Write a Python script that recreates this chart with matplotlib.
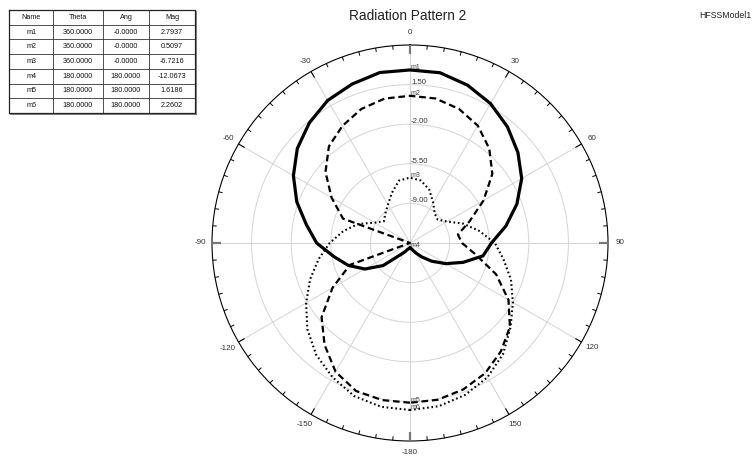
import numpy as np
import matplotlib
matplotlib.use("Agg")
import matplotlib.pyplot as plt

plt.rcParams["font.family"] = ["Liberation Sans", "DejaVu Sans"]

# ---- data: gain (dB) versus theta (deg), -180 .. 180 in 10 deg steps ----
theta_deg = list(range(-180, 181, 10))

gain_solid = [-12.0673, -12.0, -11.9, -11.6, -11.1, -9.4, -7.9, -6.7, -5.65, -4.25,
              -3.2, -1.85, -0.6, 0.5, 1.35, 2.05, 2.45, 2.8, 2.7937, 2.78,
              2.35, 1.73, 0.9, -0.05, -1.1, -2.45, -3.9, -5.3, -5.95, -7.5,
              -8.85, -10.0, -10.9, -11.5, -11.85, -12.0, -12.0673]

gain_dashed = [1.6186, 1.6, 1.42, 0.65, -0.75, -2.3, -4.6, -6.85, -14.0, -18.0,
               -15.0, -6.2, -4.5, -2.75, -1.35, -0.55, 0.1, 0.46, 0.5097, 0.47,
               0.12, -0.52, -1.6, -3.0, -5.0, -6.9, -8.2, -7.9, -6.6, -4.4,
               -2.45, -0.97, 0.0, 0.79, 1.27, 1.57, 1.6186]

gain_dotted = [2.2602, 2.2, 1.9, 1.2, 0.4, -0.65, -1.9, -3.1, -4.3, -5.4,
               -6.5, -7.6, -8.9, -9.5, -9.1, -8.6, -7.8, -6.9, -6.7216, -6.9,
               -7.5, -8.4, -9.1, -9.3, -8.7, -7.5, -6.3, -5.0, -4.1, -3.0,
               -2.0, -0.9, 0.3, 1.2, 1.78, 2.15, 2.2602]

# radial scale
r_min, r_max = -12.5, 5.0
r_rings = [-9.0, -5.5, -2.0, 1.5]

# markers: name, series index, plot angle, theta / ang strings for the table
marker_names = ["m1", "m2", "m3", "m4", "m5", "m6"]
marker_series = [0, 1, 2, 0, 1, 2]
marker_angle = [0, 0, 0, 180, 180, 180]
marker_theta_txt = ["360.0000", "360.0000", "360.0000", "180.0000", "180.0000", "180.0000"]
marker_ang_txt = ["-0.0000", "-0.0000", "-0.0000", "180.0000", "180.0000", "180.0000"]

angle_ticks = [0, 30, 60, 90, 120, 150, 180, 210, 240, 270, 300, 330]
angle_labels = ["0", "30", "60", "90", "120", "150", "-180", "-150", "-120", "-90", "-60", "-30"]

series = [gain_solid, gain_dashed, gain_dotted]

W, H = 754, 458
fig = plt.figure(figsize=(W / 100, H / 100), dpi=100)

# ---- polar plot ----
cx, cy, R = 410, 243, 198
ax = fig.add_axes([(cx - R) / W, (H - cy - R) / H, 2 * R / W, 2 * R / H], projection="polar")
ax.set_theta_zero_location("N")
ax.set_theta_direction(-1)
ax.set_ylim(r_min, r_max)

ax.set_thetagrids(angle_ticks, labels=[""] * len(angle_ticks))
ax.set_rgrids(r_rings, labels=[""] * len(r_rings))
ax.grid(True, color="#d4d4d4", linewidth=0.7)
ax.tick_params(axis="both", length=0)
ax.spines["polar"].set_color("black")
ax.spines["polar"].set_linewidth(0.8)

th = np.deg2rad(theta_deg)
styles = [
    dict(color="black", linewidth=2.3, linestyle="-", solid_joinstyle="miter"),
    dict(color="black", linewidth=1.6, linestyle=(0, (3.0, 1.7))),
    dict(color="black", linewidth=1.5, linestyle=(0, (0.8, 1.3))),
]
for vals, st in zip(series, styles):
    ax.plot(th, np.maximum(np.asarray(vals), r_min), **st, zorder=3)

# angular ticks along the outer circle, pointing inward
rng = r_max - r_min
for a in range(0, 360, 5):
    t = np.deg2rad(a)
    if a % 90 == 0:
        ln, col, lw = 9, "#777777", 1.6
    elif a % 30 == 0:
        ln, col, lw = 7, "black", 0.8
    else:
        ln, col, lw = 4, "black", 0.7
    ax.plot([t, t], [r_max, r_max - ln / R * rng], color=col, linewidth=lw,
            clip_on=False, zorder=4, solid_capstyle="butt")

# angle labels outside the circle
r_lab = r_min + rng * (210 / R)
for a, lab in zip(angle_ticks, angle_labels):
    ax.text(np.deg2rad(a), r_lab, lab, ha="center", va="center", fontsize=5.8,
            color="#333333", clip_on=False)

# ring labels on the 0 deg spoke
for rv in r_rings:
    ax.annotate(f"{rv:.2f}", xy=(0, rv), xytext=(0.8, 1.8), textcoords="offset points",
                ha="left", va="center", fontsize=5.6, color="#333333", zorder=5)

# marker labels
for name, si, ang in zip(marker_names, marker_series, marker_angle):
    v = series[si][theta_deg.index(ang)]
    ax.annotate(name, xy=(np.deg2rad(ang), max(v, r_min)), xytext=(0.2, 1.6),
                textcoords="offset points", ha="left", va="center",
                fontsize=5.0, color="#444444", zorder=5)

# ---- titles ----
fig.text(408 / W, 1 - 16 / H, "Radiation Pattern 2", ha="center", va="center",
         fontsize=9.8, color="#222222")
fig.text(751 / W, 1 - 15 / H, "HFSSModel1", ha="right", va="center",
         fontsize=6.3, color="#222222")

# ---- marker table ----
tx0, tx1, ty0, ty1 = 9.3, 195, 10, 113
tax = fig.add_axes([tx0 / W, 1 - ty1 / H, (tx1 - tx0) / W, (ty1 - ty0) / H])
tax.set_xlim(tx0, tx1)
tax.set_ylim(ty1, ty0)
tax.axis("off")
col_edges = [9.3, 53, 103, 149, 195]
n_rows = len(marker_names) + 1
row_h = (ty1 - ty0) / n_rows
for x in col_edges[1:-1]:
    tax.plot([x, x], [ty0, ty1], color="#333333", linewidth=0.6)
for i in range(1, n_rows):
    y = ty0 + i * row_h
    tax.plot([tx0, tx1], [y, y], color="#333333", linewidth=0.6)
tax.plot([tx0, tx1, tx1, tx0, tx0], [ty0, ty0, ty1, ty1, ty0], color="#222222",
         linewidth=0.9, clip_on=False)
tax.plot([tx1 + 0.8, tx1 + 0.8], [ty0 + 1, ty1 + 0.8], color="#666666", linewidth=0.6, clip_on=False)
tax.plot([tx0 + 1, tx1 + 0.8], [ty1 + 0.8, ty1 + 0.8], color="#666666", linewidth=0.6, clip_on=False)

headers = ["Name", "Theta", "Ang", "Mag"]
rows = [headers]
for name, si, ang, tt, at in zip(marker_names, marker_series, marker_angle,
                                 marker_theta_txt, marker_ang_txt):
    v = series[si][theta_deg.index(ang)]
    rows.append([name, tt, at, f"{v:.4f}"])
for i, row in enumerate(rows):
    yc = ty0 + (i + 0.5) * row_h
    for j, cell in enumerate(row):
        xc = 0.5 * (col_edges[j] + col_edges[j + 1])
        tax.text(xc, yc, cell, ha="center", va="center", fontsize=5.2, color="#111111")

fig.savefig("out.png", dpi=100, facecolor="white")
